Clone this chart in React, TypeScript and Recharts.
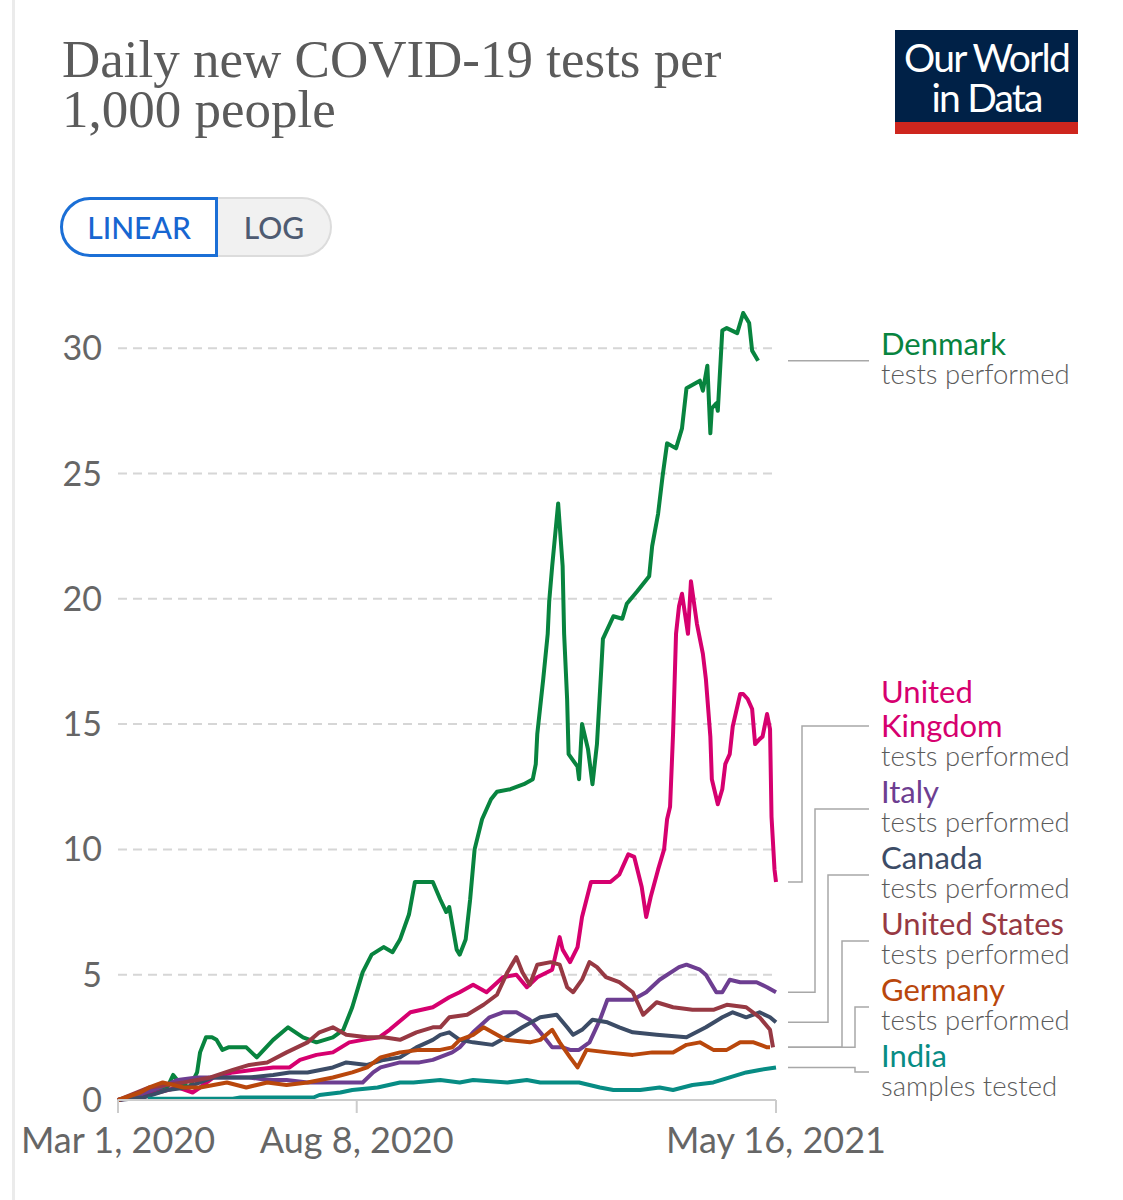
import React from "react";
import { LineChart, Line, XAxis, YAxis, CartesianGrid } from "recharts";

// [days since 1 Mar 2020, daily new tests per 1,000 people]
type Pt = [number, number];

const denmark: Pt[] = [
  [0, 0], [15, 0.2], [33, 0.5], [37, 1.0], [41, 0.7], [48, 0.5], [53, 1.1], [55, 1.9],
  [59, 2.5], [63, 2.5], [66, 2.4], [70, 2.0], [74, 2.1], [86, 2.1], [93, 1.7], [104, 2.4],
  [114, 2.9], [124, 2.5], [133, 2.3], [144, 2.5], [151, 2.8], [157, 3.7], [164, 5.1],
  [170, 5.8], [178, 6.1], [184, 5.9], [189, 6.4], [195, 7.4], [199, 8.7], [211, 8.7],
  [216, 8.0], [220, 7.5], [222, 7.7], [227, 6.0], [229, 5.8], [233, 6.4], [236, 8.0],
  [239, 10.0], [244, 11.2], [250, 12.0], [254, 12.3], [263, 12.4], [272, 12.6], [278, 12.8],
  [280, 13.4], [281, 14.6], [283, 15.7], [285, 16.8], [288, 18.6], [289, 19.9], [291, 21.3],
  [295, 23.8], [298, 21.3], [299, 18.6], [301, 16.0], [302, 13.8], [308, 13.3], [309, 12.8],
  [311, 15.0], [315, 14.0], [318, 12.6], [321, 14.2], [324, 17.3], [325, 18.4], [332, 19.3],
  [338, 19.2], [341, 19.8], [348, 20.3], [356, 20.9], [358, 22.1], [362, 23.4], [365, 24.9],
  [368, 26.2], [374, 26.0], [378, 26.8], [381, 28.4], [390, 28.7], [392, 28.3], [395, 29.3],
  [397, 26.6], [398, 27.6], [401, 27.8], [402, 27.5], [405, 30.7], [408, 30.8], [415, 30.6],
  [419, 31.4], [423, 31.0], [425, 29.9], [429, 29.5],
];

const unitedKingdom: Pt[] = [
  [0, 0], [20, 0.2], [40, 0.5], [50, 0.3], [55, 0.5], [64, 0.9], [77, 1.1], [104, 1.3],
  [115, 1.3], [122, 1.6], [133, 1.8], [144, 1.9], [155, 2.3], [164, 2.4], [175, 2.5],
  [182, 2.8], [196, 3.5], [211, 3.7], [222, 4.1], [229, 4.3], [238, 4.6], [247, 4.3],
  [258, 4.9], [267, 5.0], [274, 4.5], [281, 4.9], [291, 5.2], [296, 6.5], [298, 6.0],
  [303, 5.5], [308, 6.1], [311, 7.3], [317, 8.7], [330, 8.7], [336, 9.0], [342, 9.8],
  [346, 9.7], [351, 8.5], [354, 7.3], [357, 8.1], [362, 9.2], [366, 10.0], [368, 11.2],
  [370, 11.7], [372, 14.6], [374, 18.6], [376, 19.7], [378, 20.2], [382, 18.6], [384, 20.7],
  [388, 19.0], [392, 17.8], [394, 16.8], [397, 14.5], [398, 12.8], [402, 11.8], [405, 12.4],
  [407, 13.4], [410, 13.8], [412, 14.9], [417, 16.2], [419, 16.2], [422, 16.0], [425, 15.6],
  [427, 14.2], [430, 14.4], [432, 14.5], [435, 15.4], [437, 14.8], [438, 11.3], [440, 9.2],
  [441, 8.7],
];

const italy: Pt[] = [
  [0, 0], [14, 0.2], [28, 0.5], [40, 0.8], [53, 0.9], [77, 0.9], [88, 0.9], [100, 0.8],
  [113, 0.8], [127, 0.7], [144, 0.7], [164, 0.7], [171, 1.1], [176, 1.3], [189, 1.5],
  [202, 1.5], [211, 1.6], [224, 1.9], [229, 2.1], [238, 2.7], [249, 3.3], [258, 3.5],
  [267, 3.5], [276, 3.2], [283, 2.7], [287, 2.4], [291, 2.1], [298, 2.1], [303, 2.0],
  [309, 2.0], [316, 2.3], [323, 3.2], [328, 4.0], [345, 4.0], [354, 4.3], [363, 4.8],
  [376, 5.3], [381, 5.4], [390, 5.2], [394, 5.0], [401, 4.3], [405, 4.3], [410, 4.8],
  [417, 4.7], [428, 4.7], [435, 4.5], [441, 4.3],
];

const canada: Pt[] = [
  [0, 0], [17, 0.1], [33, 0.4], [46, 0.5], [55, 0.7], [64, 0.9], [77, 0.9], [88, 0.9],
  [104, 1.0], [115, 1.1], [127, 1.1], [144, 1.3], [153, 1.5], [167, 1.4], [178, 1.6],
  [189, 1.7], [200, 2.1], [211, 2.4], [216, 2.6], [222, 2.7], [229, 2.4], [238, 2.3],
  [251, 2.2], [260, 2.5], [271, 2.9], [283, 3.3], [294, 3.4], [301, 2.9], [305, 2.6],
  [311, 2.8], [318, 3.2], [328, 3.1], [336, 2.9], [345, 2.7], [361, 2.6], [381, 2.5],
  [394, 2.9], [405, 3.3], [412, 3.5], [421, 3.3], [430, 3.5], [437, 3.3], [441, 3.1],
];

const unitedStates: Pt[] = [
  [0, 0], [21, 0.5], [44, 0.7], [62, 0.9], [77, 1.2], [88, 1.4], [100, 1.5], [113, 1.9],
  [127, 2.3], [135, 2.7], [144, 2.9], [153, 2.6], [167, 2.5], [178, 2.5], [189, 2.4],
  [200, 2.7], [211, 2.9], [216, 2.9], [222, 3.3], [234, 3.4], [245, 3.8], [254, 4.2],
  [261, 5.1], [267, 5.7], [271, 5.1], [276, 4.6], [281, 5.4], [290, 5.5], [296, 5.4],
  [301, 4.5], [305, 4.3], [311, 4.8], [316, 5.5], [321, 5.3], [327, 4.9], [336, 4.7],
  [345, 4.3], [352, 3.4], [361, 3.9], [372, 3.7], [385, 3.6], [399, 3.6], [408, 3.8],
  [421, 3.7], [430, 3.3], [437, 2.8], [439, 2.1],
];

const germany: Pt[] = [
  [0, 0], [15, 0.3], [21, 0.5], [30, 0.7], [44, 0.5], [55, 0.5], [73, 0.7], [86, 0.5],
  [100, 0.7], [113, 0.6], [127, 0.7], [144, 0.9], [157, 1.1], [167, 1.3], [176, 1.7],
  [189, 1.9], [202, 2.0], [216, 2.0], [224, 2.1], [229, 2.4], [238, 2.6], [245, 2.9],
  [251, 2.7], [260, 2.4], [276, 2.3], [283, 2.4], [291, 2.8], [296, 2.3], [303, 1.7],
  [308, 1.3], [314, 2.0], [328, 1.9], [345, 1.8], [358, 1.9], [372, 1.9], [381, 2.2],
  [390, 2.3], [399, 2.0], [408, 2.0], [417, 2.3], [426, 2.3], [435, 2.1], [437, 2.1],
];

const india: Pt[] = [
  [20, 0.05], [77, 0.05], [82, 0.1], [131, 0.1], [135, 0.2], [149, 0.3], [157, 0.4],
  [174, 0.5], [189, 0.7], [198, 0.7], [216, 0.8], [229, 0.7], [238, 0.8], [261, 0.7],
  [274, 0.8], [283, 0.7], [296, 0.7], [309, 0.7], [323, 0.5], [332, 0.4], [350, 0.4],
  [363, 0.5], [372, 0.4], [385, 0.6], [399, 0.7], [410, 0.9], [421, 1.1], [430, 1.2],
  [441, 1.3],
];

const yTicks = [0, 5, 10, 15, 20, 25, 30];
const xTicks = [0, 160, 441];
const MONTHS = ["Jan", "Feb", "Mar", "Apr", "May", "Jun", "Jul", "Aug", "Sep", "Oct", "Nov", "Dec"];

const fmtDate = (day: number) => {
  const d = new Date(Date.UTC(2020, 2, 1 + day));
  return `${MONTHS[d.getUTCMonth()]} ${d.getUTCDate()}, ${d.getUTCFullYear()}`;
};

const toRows = (pts: Pt[]) => pts.map(([day, v]) => ({ day, v }));

const W = 1123;
const H = 1200;
const margin = { top: 298, right: 347, bottom: 0, left: 0 };
const PLOT_RIGHT = W - margin.right;
const LABEL_X = 881;
const FONT = "Lato, 'Noto Sans', sans-serif";

// label layout: text baseline, connector target y (null = straight), elbow x
const series = [
  { key: "dk", name: ["Denmark"], sub: "tests performed", color: "#08843f", data: denmark, textY: 355, lineY: null, elbow: 828 },
  { key: "uk", name: ["United", "Kingdom"], sub: "tests performed", color: "#d6006f", data: unitedKingdom, textY: 703, lineY: 726, elbow: 802 },
  { key: "it", name: ["Italy"], sub: "tests performed", color: "#6d3e91", data: italy, textY: 803, lineY: 809, elbow: 815 },
  { key: "ca", name: ["Canada"], sub: "tests performed", color: "#3c4c66", data: canada, textY: 869, lineY: 875, elbow: 828 },
  { key: "us", name: ["United States"], sub: "tests performed", color: "#973943", data: unitedStates, textY: 935, lineY: 941, elbow: 842 },
  { key: "de", name: ["Germany"], sub: "tests performed", color: "#b9470c", data: germany, textY: 1001, lineY: 1007, elbow: 855 },
  { key: "in", name: ["India"], sub: "samples tested", color: "#078c84", data: india, textY: 1067, lineY: 1072, elbow: 855 },
];

type S = (typeof series)[number];

const endLabel = (s: S) => (props: any) => {
  const { x, y, index } = props;
  if (index !== s.data.length - 1) return null;
  const x0 = PLOT_RIGHT + 12;
  const ty = s.lineY ?? y;
  const d = `M${x0},${y} H${s.elbow} V${ty} H${LABEL_X - 12}`;
  const subY = s.textY + (s.name.length - 1) * 34 + 29;
  return (
    <g key={`end-${s.key}`}>
      <path d={d} fill="none" stroke="#a8a8a8" strokeWidth={1.5} />
      {s.name.map((n, i) => (
        <text key={n} x={LABEL_X} y={s.textY + i * 34} fill={s.color} fontSize={31} fontFamily={FONT}>
          {n}
        </text>
      ))}
      <text x={LABEL_X} y={subY} fill="#5b5b5b" fontSize={27.5} fontFamily={FONT} fontWeight={300}>
        {s.sub}
      </text>
    </g>
  );
};

const Toggle = () => (
  <div style={{ position: "absolute", left: 60, top: 197, display: "flex", fontFamily: FONT, fontSize: 30 }}>
    <div
      style={{
        width: 158, height: 60, boxSizing: "border-box", border: "3px solid #1b6fd6",
        borderRadius: "30px 0 0 30px", background: "#fff", color: "#1766d1",
        display: "flex", alignItems: "center", justifyContent: "center", fontWeight: 500,
      }}
    >
      LINEAR
    </div>
    <div
      style={{
        width: 114, height: 60, boxSizing: "border-box", border: "2px solid #dcdcdc", borderLeft: "none",
        borderRadius: "0 30px 30px 0", background: "#f1f1f1", color: "#4e5b72",
        display: "flex", alignItems: "center", justifyContent: "center", fontWeight: 500,
      }}
    >
      LOG
    </div>
  </div>
);

const Logo = () => (
  <svg width={183} height={104} style={{ position: "absolute", left: 895, top: 30 }}>
    <rect x={0} y={0} width={183} height={92} fill="#002147" />
    <rect x={0} y={92} width={183} height={12} fill="#ce261e" />
    <text x={91.5} y={42} textAnchor="middle" fill="#fff" fontFamily={FONT} fontSize={39} letterSpacing={-1.8}>
      Our World
    </text>
    <text x={91.5} y={82} textAnchor="middle" fill="#fff" fontFamily={FONT} fontSize={39} letterSpacing={-1.8}>
      in Data
    </text>
  </svg>
);

export default function App() {
  return (
    <div style={{ position: "absolute", left: 0, top: 0, width: W, height: H, background: "#fff", overflow: "hidden" }}>
      <div style={{ position: "absolute", left: 12, top: 0, width: 3, height: H, background: "#ebebeb" }} />
      <div
        style={{
          position: "absolute", left: 62, top: 34, fontFamily: "'Liberation Serif', 'DejaVu Serif', serif",
          fontSize: 53, lineHeight: "50px", color: "#5b5b5b",
        }}
      >
        Daily new COVID-19 tests per
        <br />
        1,000 people
      </div>
      <Logo />
      <Toggle />
      <div style={{ position: "absolute", left: 0, top: 0 }}>
        <LineChart width={W} height={H} margin={margin}>
          <CartesianGrid
            vertical={false}
            horizontalValues={yTicks}
            strokeDasharray="9 6"
            stroke="#d6d6d6"
            strokeWidth={2}
          />
          <XAxis
            dataKey="day"
            type="number"
            domain={[0, 441]}
            ticks={xTicks}
            interval={0}
            tickFormatter={fmtDate}
            height={100}
            tickSize={13}
            tickMargin={14}
            axisLine={{ stroke: "#cccccc", strokeWidth: 2 }}
            tickLine={{ stroke: "#cccccc", strokeWidth: 2 }}
            tick={{ fontSize: 36, fill: "#666", fontFamily: FONT }}
          />
          <YAxis
            type="number"
            domain={[0, 32]}
            ticks={yTicks}
            interval={0}
            width={118}
            axisLine={false}
            tickLine={false}
            tickSize={0}
            tickMargin={16}
            tick={{ fontSize: 34, fill: "#666", fontFamily: FONT }}
          />
          {series.map((s) => (
            <Line
              key={s.key}
              data={toRows(s.data)}
              dataKey="v"
              type="linear"
              stroke={s.color}
              strokeWidth={4}
              strokeLinejoin="round"
              dot={false}
              activeDot={false}
              isAnimationActive={false}
              label={endLabel(s)}
            />
          ))}
        </LineChart>
      </div>
    </div>
  );
}
